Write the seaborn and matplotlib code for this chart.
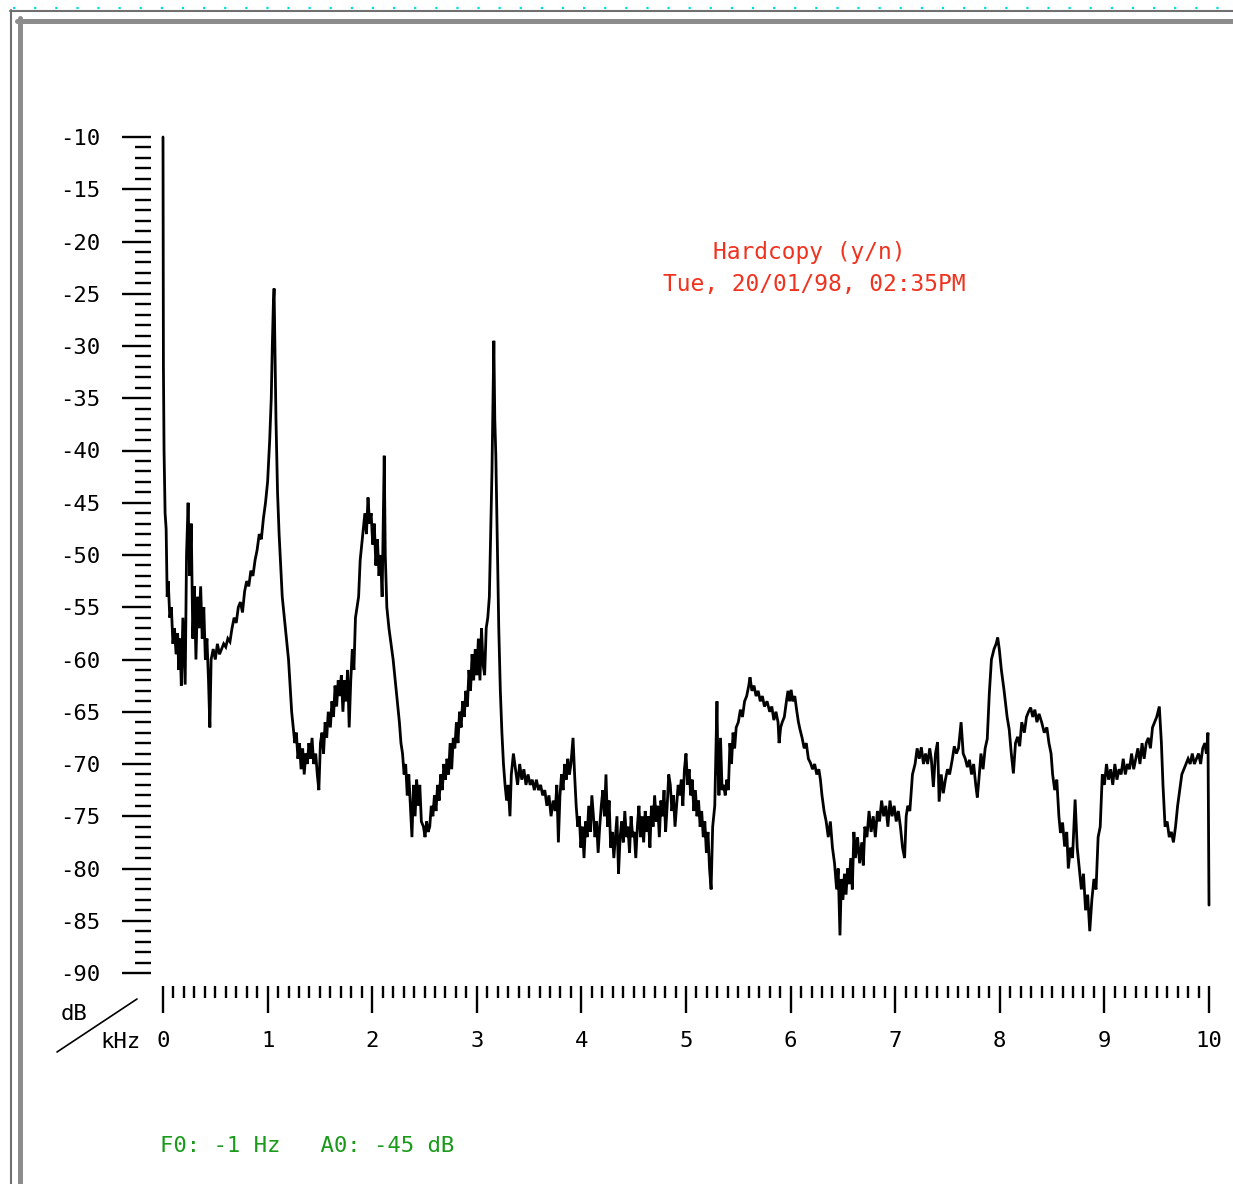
"""
Spectrum hardcopy (dB vs kHz) redrawn with seaborn/matplotlib.
Values read off the old screen dump, segment by segment.
"""
import matplotlib
matplotlib.use("Agg")
import matplotlib.pyplot as plt
from matplotlib.lines import Line2D
from matplotlib.ticker import FixedLocator, MultipleLocator
import seaborn as sns

# --- Spectrum data (kHz, dB), split into segments ---
seg_a_khz = [0.000, 0.004, 0.010, 0.020, 0.030, 0.040, 0.050, 0.065, 0.080, 0.095,
             0.110, 0.125, 0.140, 0.150, 0.162, 0.175, 0.190, 0.200, 0.212, 0.225,
             0.240, 0.255, 0.270, 0.285, 0.300, 0.315, 0.330, 0.345, 0.360, 0.375,
             0.390, 0.405, 0.420, 0.435, 0.448, 0.460, 0.480, 0.500, 0.520, 0.540,
             0.560, 0.580, 0.600, 0.620, 0.640, 0.660, 0.680, 0.700, 0.720, 0.740,
             0.760, 0.780, 0.800, 0.820, 0.840, 0.860, 0.880, 0.900, 0.920, 0.940,
             0.960, 0.980]
seg_a_db = [-10, -32, -40, -46, -47.5, -54, -52.5, -56, -55, -58.5,
            -57, -59.5, -57.5, -61, -58, -62.5, -56, -59, -62.4, -50,
            -45, -52, -47, -58, -53, -60, -54, -57, -53, -58,
            -55, -60, -58, -62, -66.5, -60, -59, -60, -58.5, -59.5,
            -59, -58.5, -58.8, -58, -58.3, -57, -56, -56.5, -55, -54.5,
            -55.5, -53.5, -52.5, -53, -51.5, -52, -50.5, -49.5, -48, -48.5,
            -46.5, -45]

seg_b_khz = [1.000, 1.020, 1.035, 1.045, 1.055, 1.062, 1.070, 1.080, 1.095, 1.110,
             1.125, 1.140, 1.160, 1.180, 1.200, 1.215, 1.230, 1.245, 1.260, 1.275,
             1.290, 1.305, 1.320, 1.335, 1.350, 1.365, 1.380, 1.395, 1.410, 1.425,
             1.440, 1.460, 1.475, 1.490, 1.505, 1.520, 1.535, 1.550, 1.565, 1.580,
             1.600, 1.615, 1.630, 1.645, 1.660, 1.675, 1.690, 1.705, 1.720, 1.735,
             1.750, 1.765, 1.780, 1.795, 1.810, 1.825, 1.840, 1.855, 1.870, 1.885,
             1.900, 1.915, 1.930, 1.945, 1.960, 1.975, 1.990]
seg_b_db = [-43, -39, -35, -30, -26, -24.5, -30, -37, -44, -48,
            -51, -54, -56, -58, -60, -62.5, -65, -66.5, -68, -67,
            -69.5, -68, -70.5, -68.5, -71, -69, -70, -68, -69.5, -67.5,
            -70, -69, -71, -72.5, -68, -67, -69, -66, -67.5, -65,
            -66.5, -64, -65.5, -62.5, -64.5, -62, -63.5, -61.5, -65, -62,
            -64, -61, -66.5, -62, -59, -61, -56, -55, -54, -50.5,
            -49, -47.5, -46, -48, -44.5, -47, -46]

seg_c_khz = [2.005, 2.020, 2.035, 2.050, 2.065, 2.080, 2.095, 2.105, 2.115, 2.125,
             2.140, 2.160, 2.180, 2.200, 2.220, 2.240, 2.260, 2.275, 2.290, 2.305,
             2.320, 2.335, 2.350, 2.365, 2.380, 2.395, 2.410, 2.425, 2.440, 2.455,
             2.470, 2.490, 2.505, 2.520, 2.535, 2.550, 2.565, 2.580, 2.595, 2.610,
             2.625, 2.640, 2.655, 2.670, 2.685, 2.700, 2.715, 2.730, 2.745, 2.760,
             2.775, 2.790, 2.805, 2.820, 2.835, 2.850, 2.865, 2.880, 2.895, 2.910,
             2.925, 2.940, 2.955, 2.970, 2.985, 3.000, 3.015, 3.030, 3.045, 3.060,
             3.075, 3.090, 3.105, 3.120, 3.135, 3.145, 3.155, 3.163, 3.172, 3.182,
             3.195]
seg_c_db = [-49, -47, -51, -48.5, -52, -50, -54, -47, -40.5, -50,
            -55, -57, -58.5, -60, -62, -64, -66, -68, -69, -71,
            -70, -73, -71, -74, -77, -72, -75, -71.5, -74, -72,
            -75.5, -76, -77, -75.5, -76.5, -76, -74, -75, -73, -74.5,
            -72, -73.5, -71, -72.5, -70, -71.5, -69.5, -71, -68, -70.5,
            -67.5, -68.5, -66, -68, -65, -66.5, -64, -65.5, -63, -64.5,
            -61, -63, -59.5, -62, -59, -61.5, -58, -62, -57, -60.5,
            -61.5, -57, -56, -54, -47, -42, -35, -29.5, -37, -40.5,
            -48]

seg_d_khz = [3.210, 3.225, 3.240, 3.255, 3.270, 3.285, 3.300, 3.317, 3.330, 3.350,
             3.370, 3.390, 3.410, 3.430, 3.450, 3.470, 3.490, 3.510, 3.530, 3.550,
             3.570, 3.590, 3.610, 3.630, 3.650, 3.670, 3.690, 3.710, 3.730, 3.750,
             3.765, 3.780, 3.795, 3.810, 3.825, 3.840, 3.855, 3.870, 3.885, 3.900,
             3.920, 3.935, 3.950, 3.965, 3.980, 3.995, 4.010, 4.025, 4.040, 4.055,
             4.070, 4.085, 4.100, 4.115, 4.130, 4.145, 4.160, 4.175, 4.190, 4.205,
             4.220, 4.235, 4.250, 4.265, 4.280, 4.295, 4.310, 4.325, 4.340, 4.355,
             4.370, 4.385, 4.400, 4.415, 4.430, 4.445, 4.460, 4.475, 4.490, 4.505,
             4.520, 4.535, 4.550, 4.565, 4.580, 4.595, 4.610, 4.625, 4.640, 4.655,
             4.670, 4.685, 4.700, 4.715, 4.730, 4.745, 4.760, 4.775, 4.790, 4.805,
             4.820, 4.835, 4.850, 4.865, 4.880, 4.895, 4.910, 4.925, 4.940, 4.955,
             4.970, 4.985]
seg_d_db = [-57, -63, -67, -70, -72, -73.5, -72, -75, -71, -69,
            -70.5, -72, -70, -71.5, -70.5, -72, -71, -72, -71.5, -72.5,
            -71.5, -72.5, -72, -73, -72.5, -74, -73, -75, -73.5, -74.5,
            -72, -77.5, -73, -71, -72.5, -70, -71.5, -69.5, -71, -70,
            -67.5, -71, -74, -76, -75, -78, -76, -79, -75.5, -77,
            -74, -76.5, -73, -75, -77, -75.5, -78.5, -76, -74, -72.5,
            -75, -71, -76, -73.5, -78, -76.5, -79, -77, -75, -80.5,
            -77, -75.5, -77.5, -74.5, -77, -76, -78.5, -75, -77, -76.5,
            -79, -76, -74, -77, -75, -77.5, -74.5, -76.5, -75, -78,
            -74, -76, -73, -75.5, -74, -77, -73.5, -75, -72.5, -76.5,
            -74, -71, -72, -74.5, -73, -76, -74, -72, -73, -71.5,
            -74, -70.5]

seg_e_khz = [5.000, 5.015, 5.030, 5.045, 5.060, 5.075, 5.090, 5.105, 5.120, 5.135,
             5.150, 5.165, 5.180, 5.195, 5.210, 5.225, 5.240, 5.255, 5.275, 5.296,
             5.305, 5.315, 5.330, 5.345, 5.360, 5.375, 5.390, 5.405, 5.420, 5.435,
             5.450, 5.465, 5.480, 5.500, 5.520, 5.540, 5.560, 5.580, 5.600, 5.612,
             5.630, 5.650, 5.670, 5.690, 5.710, 5.730, 5.750, 5.775, 5.800, 5.820,
             5.840, 5.860, 5.880, 5.890, 5.905, 5.920, 5.940, 5.960, 5.975, 5.990,
             6.005, 6.020, 6.040, 6.060, 6.075, 6.090, 6.110, 6.130, 6.150, 6.170,
             6.190, 6.210, 6.230, 6.250, 6.270, 6.285, 6.300, 6.320, 6.340, 6.360,
             6.380, 6.400, 6.420, 6.440, 6.455, 6.472, 6.485, 6.500, 6.515, 6.530,
             6.545, 6.560, 6.575, 6.590, 6.605, 6.620, 6.640, 6.660, 6.680, 6.695,
             6.710, 6.730, 6.750, 6.770, 6.790, 6.810, 6.830, 6.850, 6.870, 6.890,
             6.910, 6.930, 6.950, 6.970, 6.990, 7.010, 7.030, 7.050, 7.070, 7.090,
             7.105, 7.120, 7.140, 7.165, 7.190, 7.210, 7.230, 7.250, 7.270, 7.290,
             7.310]
seg_e_db = [-69, -72, -70.5, -73, -71.5, -74.5, -72.5, -75, -73.5, -76,
            -74.5, -77, -75.5, -78.5, -76.5, -80, -82, -76, -74, -64,
            -70, -73, -67.5, -72.5, -72, -73, -71.5, -72.5, -68, -70,
            -67, -68.5, -66.5, -66, -64.8, -65.5, -64, -63.5, -62.5, -61.7,
            -63, -62.5, -63.5, -63, -64, -63.5, -64.5, -64, -65, -64.5,
            -65.8, -65, -66, -68, -66.5, -66, -65.5, -64, -63, -64,
            -62.9, -64, -63.5, -65, -66, -66.7, -67.5, -68.5, -68, -69.5,
            -69.9, -70.5, -70, -71, -70.5, -71.5, -73, -74.5, -75.5, -77,
            -75.5, -78, -79.5, -82, -80, -86.4, -81, -83, -80.5, -82.5,
            -80, -81.5, -79, -82, -76.5, -79, -77, -79.5, -77.5, -79.7,
            -76, -77, -74.5, -76.5, -75, -77, -74.5, -75.5, -73.5, -75,
            -74, -76, -73.5, -75, -74, -75.5, -74.5, -76, -78, -79,
            -75, -74, -74.5, -71, -70, -68.5, -69.5, -68.4, -70, -69,
            -70]

seg_f_khz = [7.330, 7.345, 7.365, 7.385, 7.405, 7.420, 7.440, 7.460, 7.480, 7.500,
             7.520, 7.545, 7.565, 7.585, 7.605, 7.630, 7.650, 7.670, 7.690, 7.710,
             7.730, 7.750, 7.770, 7.785, 7.800, 7.820, 7.840, 7.860, 7.880, 7.900,
             7.920, 7.945, 7.965, 7.980, 7.995, 8.015, 8.040, 8.070, 8.090, 8.110,
             8.130, 8.150, 8.170, 8.190, 8.210, 8.235, 8.255, 8.275, 8.295, 8.315,
             8.335, 8.355, 8.375, 8.400, 8.425, 8.450, 8.470, 8.490, 8.505, 8.525,
             8.545, 8.565, 8.580, 8.600, 8.620, 8.640, 8.655, 8.675, 8.695, 8.720,
             8.740, 8.760, 8.780, 8.800, 8.820, 8.840, 8.860, 8.880, 8.900, 8.920,
             8.940, 8.960, 8.980, 9.000, 9.020, 9.040, 9.060, 9.080, 9.100, 9.120,
             9.140, 9.160, 9.180, 9.200, 9.220, 9.240, 9.260, 9.280, 9.300, 9.320,
             9.340, 9.360, 9.380, 9.400, 9.420, 9.440, 9.460, 9.480, 9.500, 9.525,
             9.545, 9.560, 9.580, 9.600, 9.620, 9.640, 9.660, 9.680, 9.700, 9.720,
             9.740, 9.760, 9.780, 9.800, 9.820, 9.840, 9.860, 9.880, 9.900, 9.920,
             9.940, 9.960, 9.975, 9.990, 10.000]
seg_f_db = [-68.5, -69.5, -72.2, -69, -67.9, -73.6, -71, -72.8, -71.5, -70.5,
            -71, -69.6, -68.3, -69, -68.5, -66, -69, -69.5, -70.3, -69.6,
            -71, -70, -72, -73.2, -71.5, -69, -70.5, -68.5, -67.6, -63.2,
            -60, -59, -58.5, -57.9, -59, -61, -62.9, -65.5, -66.7, -69,
            -70.9, -68, -67.4, -68.3, -66, -67, -65.5, -65, -64.6, -65.5,
            -64.8, -66, -65.2, -66, -67, -66.5, -68, -69, -71, -72.5,
            -71.5, -75, -76.6, -75.6, -77.9, -76.5, -80, -78, -79, -73.4,
            -78, -80, -82, -80.5, -84, -82.5, -86, -83, -81, -82,
            -77, -76, -71, -72, -70, -71.5, -70.5, -72, -70, -71.5,
            -70.5, -71, -69.5, -71, -70, -70.5, -69, -70.5, -69.5, -68.5,
            -70, -68, -69.5, -68, -67.5, -68.5, -66.5, -66, -65.5, -64.5,
            -68, -72, -76, -75.5, -77, -76.5, -77.5, -76, -74, -72.5,
            -71, -70.5, -70, -69.5, -70, -69, -70, -69.5, -69, -70,
            -68.5, -68, -69, -67, -83.5]

# --- Axis ticks / labels ---
x_major = list(range(0, 11))
x_labels = [str(v) for v in x_major]
y_major = list(range(-90, -9, 5))
y_labels = [str(v) for v in y_major]

title_lines = ["Hardcopy (y/n)", "Tue, 20/01/98, 02:35PM"]
status_text = "F0: -1 Hz   A0: -45 dB"

segments = [(seg_a_khz, seg_a_db), (seg_b_khz, seg_b_db), (seg_c_khz, seg_c_db),
            (seg_d_khz, seg_d_db), (seg_e_khz, seg_e_db), (seg_f_khz, seg_f_db)]
freq_khz, level_db = [], []
for k, d in segments:
    assert len(k) == len(d), (len(k), len(d), k[0])
    freq_khz += k
    level_db += d

# --- Figure set-up ---
W, H = 1233, 1184
PT = 0.72  # points per pixel at dpi 100

sns.set_theme(style="white")
plt.rcParams['font.family'] = ['DejaVu Sans Mono', 'DejaVu Sans']
plt.rcParams['axes.unicode_minus'] = False

fig = plt.figure(figsize=(W / 100, H / 100), dpi=100)
fig.patch.set_facecolor('white')


def fx(px):
    return px / W


def fy(py):
    return 1 - py / H


ax = fig.add_axes([fx(163), fy(973), fx(1209) - fx(163), fy(137) - fy(973)])
ax.set_facecolor('none')

sns.lineplot(x=freq_khz, y=level_db, ax=ax, color='black', linewidth=2.0,
             estimator=None, sort=False)
for ln in ax.lines:
    ln.set_clip_on(False)
    ln.set_solid_joinstyle('miter')

ax.set_xlim(0, 10)
ax.set_ylim(-90, -10)

# detached rulers: ticks sit a little away from the plot area
ax.spines['left'].set_position(('outward', 12 * PT))
ax.spines['bottom'].set_position(('outward', 13 * PT))
for s in ax.spines.values():
    s.set_color('none')

ax.xaxis.set_major_locator(FixedLocator(x_major))
ax.set_xticklabels(x_labels)
ax.xaxis.set_minor_locator(MultipleLocator(0.1))
ax.yaxis.set_major_locator(FixedLocator(y_major))
ax.set_yticklabels(y_labels)
ax.yaxis.set_minor_locator(MultipleLocator(1))

ax.tick_params(axis='y', which='major', left=True, direction='out',
               length=29 * PT, width=1.7, color='black', pad=15.5,
               labelsize=16, labelcolor='black')
ax.tick_params(axis='y', which='minor', left=True, direction='out',
               length=16 * PT, width=1.7, color='black')
ax.tick_params(axis='x', which='major', bottom=True, direction='out',
               length=27 * PT, width=1.7, color='black', pad=13,
               labelsize=16, labelcolor='black')
ax.tick_params(axis='x', which='minor', bottom=True, direction='out',
               length=12 * PT, width=1.7, color='black')
ax.set_xlabel('')
ax.set_ylabel('')
ax.grid(False)

# unit labels in the corner
fig.text(fx(74), fy(1014), 'dB', ha='center', va='center', fontsize=16, color='black')
fig.text(fx(120), fy(1042), 'kHz', ha='center', va='center', fontsize=16, color='black')
fig.add_artist(Line2D([fx(57), fx(137)], [fy(1052), fy(999)], transform=fig.transFigure,
                      color='black', lw=1.2))

# red hardcopy prompt
fig.text(fx(809), fy(253), title_lines[0], ha='center', va='center',
         fontsize=16.5, color='#f0321e')
fig.text(fx(814), fy(285), title_lines[1], ha='center', va='center',
         fontsize=16.5, color='#f0321e')

# green status line
fig.text(fx(160), fy(1146), status_text, ha='left', va='center',
         fontsize=16, color='#1a9a1a')

# window frame
fig.add_artist(Line2D([fx(13), 1], [fy(8), fy(8)], transform=fig.transFigure,
                      color='#00dede', lw=1.6, linestyle=(0, (1, 8.5))))
fig.add_artist(Line2D([fx(10), 1], [fy(11), fy(11)], transform=fig.transFigure,
                      color='#707070', lw=1.5))
fig.add_artist(Line2D([fx(11), fx(11)], [fy(10), 0], transform=fig.transFigure,
                      color='#707070', lw=1.5))
fig.add_artist(Line2D([fx(17), 1], [fy(20.5), fy(20.5)], transform=fig.transFigure,
                      color='#8c8c8c', lw=3.6))
fig.add_artist(Line2D([fx(20), fx(20)], [fy(18), 0], transform=fig.transFigure,
                      color='#8c8c8c', lw=3.6))

fig.savefig('out.png', dpi=100, facecolor='white')
